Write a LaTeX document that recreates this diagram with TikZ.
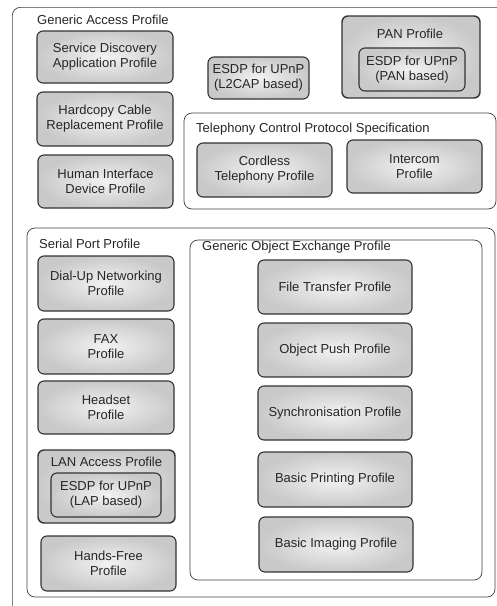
\documentclass[tikz,border=0pt]{standalone}
\usepackage{fontspec}
\setmainfont{Liberation Sans}
\usetikzlibrary{positioning}

\tikzset{
  profile/.style={draw=black!80, line width=1.1pt, rounded corners=6pt,
    inner color=gray!10, outer color=gray!42, align=center, text=black!85, inner sep=0pt},
  group/.style={draw=black!75, line width=0.7pt, rounded corners=8pt, fill=white, inner sep=0pt},
  grouplabel/.style={text=black!85, inner sep=0pt, anchor=west},
  boxsize/.style 2 args={minimum width=#1pt, minimum height=#2pt},
}

\begin{document}
\begin{tikzpicture}[x=1pt, y=-1pt, font=\fontsize{13}{15}\selectfont]
  \useasboundingbox (0,0) rectangle (497,606);
  \clip (0,0) rectangle (497,606);

  % outer frame runs off the page
  \node[group, boxsize={520}{620}, anchor=north west] (gap) at (12,7) {};
  \node[grouplabel] (gaplabel) at (37,20) {Generic Access Profile};

  \node[profile, boxsize={136}{52}] (sdap) at (105,57) {Service Discovery\\Application Profile};
  \node[profile, boxsize={136}{54}] (hcrp) at (105,119) {Hardcopy Cable\\Replacement Profile};
  \node[profile, boxsize={135}{53}] (hid) at (105.5,181.5) {Human Interface\\Device Profile};
  \node[profile, boxsize={101}{42}] (esdpl2cap) at (258.5,78) {ESDP for UPnP\\(L2CAP based)};

  % PAN
  \node[profile, line width=1.4pt, boxsize={138}{82}] (pan) at (411,57) {};
  \node[grouplabel, anchor=center] (panlabel) at (410,34) {PAN Profile};
  \node[profile, boxsize={106}{43}] (esdppan) at (412,69.5) {ESDP for UPnP\\(PAN based)};

  % telephony
  \node[group, boxsize={312}{96}] (tcs) at (340,161) {};
  \node[grouplabel] (tcslabel) at (196,129) {Telephony Control Protocol Specification};
  \node[profile, boxsize={135}{54}] (ctp) at (264.5,170) {Cordless\\Telephony Profile};
  \node[profile, boxsize={135}{53}] (icp) at (414.5,166.5) {Intercom\\Profile};

  % serial port
  \node[group, boxsize={468}{369}] (spp) at (261,412.5) {};
  \node[grouplabel] (spplabel) at (39,244) {Serial Port Profile};
  \node[profile, boxsize={136}{55}] (dun) at (106,283.5) {Dial-Up Networking\\Profile};
  \node[profile, boxsize={136}{55}] (fax) at (106,346.5) {FAX\\Profile};
  \node[profile, boxsize={136}{53}] (hsp) at (106,407.5) {Headset\\Profile};
  \node[profile, line width=1.4pt, boxsize={137}{73}] (lap) at (106.5,486.5) {};
  \node[grouplabel, anchor=center] (laplabel) at (106.5,462) {LAN Access Profile};
  \node[profile, boxsize={110}{44}] (esdplap) at (106,495) {ESDP for UPnP\\(LAP based)};
  \node[profile, boxsize={135}{55}] (hfp) at (108.5,563.5) {Hands-Free\\Profile};

  % object exchange
  \node[group, boxsize={292}{340}] (goep) at (336,410) {};
  \node[grouplabel] (goeplabel) at (202,247) {Generic Object Exchange Profile};
  \node[profile, boxsize={154}{54}] (ftp) at (335,287) {File Transfer Profile};
  \node[profile, boxsize={154}{54}] (opp) at (335,350) {Object Push Profile};
  \node[profile, boxsize={154}{54}] (sync) at (335,413) {Synchronisation Profile};
  \node[profile, boxsize={154}{55}] (bpp) at (335,479.5) {Basic Printing Profile};
  \node[profile, boxsize={154}{55}] (bip) at (336,544.5) {Basic Imaging Profile};
\end{tikzpicture}
\end{document}
